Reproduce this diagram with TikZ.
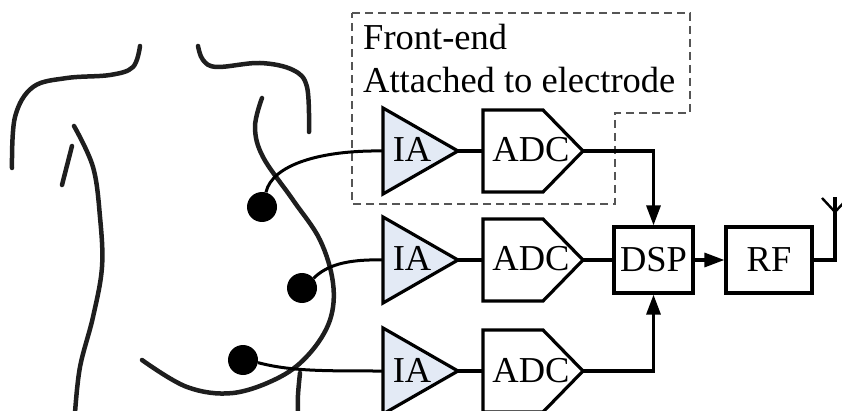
\documentclass[tikz,border=0pt]{standalone}
\usepackage{fontspec}
\setmainfont{Liberation Serif}
\usetikzlibrary{arrows.meta}
\definecolor{iafill}{HTML}{E3EAF5}
\definecolor{bodyline}{HTML}{1E1E1E}
\definecolor{dashgray}{HTML}{555555}
\begin{document}
\begin{tikzpicture}[x=1pt,y=-1pt,
  blockline/.style={line width=3.2pt, line join=miter},
  wire/.style={line width=3pt},
  sigline/.style={line width=3.2pt},
  arrowsig/.style={line width=3.2pt, -{Triangle[length=20pt,width=14pt]}},
  lbl/.style={font=\fontsize{36.5}{43}\selectfont, inner sep=0pt, anchor=base},
  blockbox/.style={draw, line width=3.2pt, minimum height=66pt, inner sep=0pt,
                   font=\fontsize{36.5}{43}\selectfont},
  electrode/.style={circle, fill=black, minimum size=30pt, inner sep=0pt},
  outline/.style={line width=4.5pt, color=bodyline, line cap=round, line join=round},
  frontbox/.style={draw=dashgray, line width=1.3pt, dash pattern=on 8pt off 5pt}
]
\clip (0,0) rectangle (842,411);

% torso outline
\draw[outline] plot[smooth, tension=0.6] coordinates
  {(12,168) (15,117) (33,87) (67,78) (110,75) (133,67) (140,46)};
\draw[outline] plot[smooth, tension=0.6] coordinates
  {(198,46) (203,60) (217,67) (260,63) (293,70) (307,87) (309,132)};
\draw[outline] plot[smooth, tension=0.6] coordinates
  {(74,126) (93,167) (100,217) (102,267) (93,317) (80,367) (75,413)};
\draw[outline] (72,146) -- (62,185);
\draw[outline] plot[smooth, tension=0.6] coordinates
  {(262,98) (255,127) (263,157) (293,200) (320,240) (333,283) (330,320)
   (310,353) (280,377) (233,393) (187,387) (142,360)};
\draw[outline] plot[smooth, tension=0.6] coordinates {(300,373) (298,395) (298,413)};

% electrodes
\node[electrode] (e1) at (262,207) {};
\node[electrode] (e2) at (302,288) {};
\node[electrode] (e3) at (243,360) {};

% front-end region
\draw[frontbox] (352,13) -- (690,13) -- (690,113) -- (615,113) -- (615,204) -- (352,204) -- cycle;
\node[lbl, anchor=base west] (fe1) at (363,50) {Front-end};
\node[lbl, anchor=base west] (fe2) at (363,93) {Attached to electrode};

% amplifier and converter chains
\foreach \r/\y in {1/151,2/260,3/371} {
  \draw[blockline, fill=iafill] (383,\y-43) -- (458,\y) -- (383,\y+43) -- cycle;
  \draw[blockline] (483,\y-41) -- (543,\y-41) -- (583,\y) -- (543,\y+41) -- (483,\y+41) -- cycle;
  \coordinate (ia\r-in) at (383,\y);
  \coordinate (ia\r-out) at (458,\y);
  \coordinate (adc\r-in) at (483,\y);
  \coordinate (adc\r-out) at (583,\y);
  \node[lbl] (ia\r) at (412,\y+11) {IA};
  \node[lbl] (adc\r) at (531,\y+11) {ADC};
  \draw[sigline] (ia\r-out) -- (adc\r-in);
}

% processing and radio
\node[blockbox, minimum width=79pt] (dsp) at (653.5,260) {DSP};
\node[blockbox, minimum width=86pt] (rf) at (769,260) {RF};
\coordinate (antfeed) at (835,260);
\coordinate (ant) at (835,212);
\coordinate (anttop) at (835,197);
\coordinate (antl) at (822,198);
\coordinate (antr) at (848,198);

% electrode leads
\draw[wire] (e1.75) .. controls (272,165) and (320,150) .. (ia1-in);
\draw[wire] (e2.40) .. controls (326,266) and (345,259) .. (ia2-in);
\draw[wire] (e3.-10) .. controls (290,371) and (320,371) .. (ia3-in);

% signal paths
\draw[arrowsig] (adc1-out) -| (dsp.north);
\draw[sigline] (adc2-out) -- (dsp.west);
\draw[arrowsig] (adc3-out) -| (dsp.south);
\draw[arrowsig] (dsp.east) -- (rf.west);
\draw[sigline, line join=miter] (rf.east) -- (antfeed) -- (anttop);
\draw[sigline, line width=2.4pt] (antl) -- (ant) -- (antr);
\end{tikzpicture}
\end{document}
